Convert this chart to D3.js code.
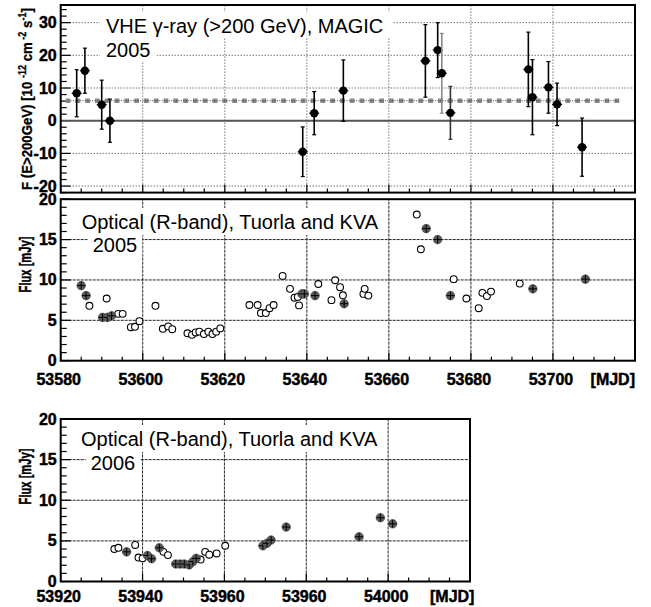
<!DOCTYPE html>
<html><head><meta charset="utf-8">
<script src="https://cdn.jsdelivr.net/npm/d3@7"></script>
<style>
html,body{margin:0;padding:0;background:#fff;}
svg{display:block;font-family:"Liberation Sans",Arial,Helvetica,sans-serif;}
</style></head>
<body>
<svg id="chart" width="651" height="607"></svg>
<script>
// ---------- DATA ----------
// VHE gamma-ray (MAGIC) 2005, flux in 1e-12 cm^-2 s^-1
const vheMJD  = [53583.9, 53585.9, 53590.0, 53592.0, 53639.0, 53641.8, 53648.9, 53668.9, 53671.9, 53672.9, 53675.0, 53694.0, 53695.0, 53698.9, 53701.0, 53707.1];
const vheFlux = [8.4, 15.3, 4.9, 0.0, -9.5, 2.3, 9.2, 18.3, 21.6, 14.5, 2.4, 15.7, 7.2, 10.2, 5.0, -8.1];
const vheErr  = [7.2, 6.9, 7.5, 6.6, 7.6, 6.6, 9.4, 11.1, 8.4, 12.2, 8.1, 11.4, 11.5, 7.9, 6.5, 8.9];
const vheFitLevel = [6.1];
const vheFitRange = [53581.8, 53716.4];

// Optical 2005 - Tuorla (open) and KVA (filled), flux in mJy
const opt2005OpenMJD  = [53587.0, 53591.2, 53594.0, 53595.1, 53597.1, 53598.1, 53599.2, 53603.1, 53604.9, 53606.2, 53607.2, 53610.9, 53612.0, 53612.9, 53613.8, 53614.9, 53616.0, 53617.0, 53617.9, 53618.9, 53626.0, 53628.0, 53628.8, 53630.0, 53630.9, 53631.9, 53634.1, 53635.9, 53637.0, 53637.8, 53638.1, 53642.8, 53646.0, 53646.9, 53648.1, 53648.8, 53653.8, 53654.1, 53655.0, 53666.8, 53667.8, 53675.8, 53678.9, 53681.9, 53682.8, 53683.9, 53684.9, 53691.9];
const opt2005OpenFlux = [6.8, 7.7, 5.8, 5.8, 4.15, 4.2, 4.9, 6.8, 3.95, 4.25, 3.9, 3.4, 3.2, 3.5, 3.6, 3.3, 3.6, 3.3, 3.6, 4.0, 6.9, 6.9, 5.9, 5.9, 6.5, 6.9, 10.5, 8.9, 7.8, 7.9, 6.85, 9.5, 7.5, 9.96, 9.1, 8.1, 8.27, 8.9, 8.06, 18.1, 13.8, 10.1, 7.7, 6.5, 8.4, 8.0, 8.56, 9.55];
const opt2005FillMJD  = [53585.0, 53586.2, 53590.2, 53591.4, 53592.4, 53638.8, 53639.4, 53642.0, 53649.1, 53669.1, 53671.9, 53675.0, 53695.1, 53707.9];
const opt2005FillFlux = [9.3, 8.06, 5.36, 5.36, 5.56, 8.27, 8.27, 8.06, 7.06, 16.36, 15.0, 8.06, 8.9, 10.1];

// Optical 2006
const opt2006OpenMJD  = [53933.1, 53934.1, 53938.2, 53939.0, 53940.0, 53945.1, 53946.2, 53954.2, 53955.3, 53956.3, 53958.1, 53960.2];
const opt2006OpenFlux = [4.0, 4.15, 4.5, 2.95, 2.85, 3.65, 3.25, 2.7, 3.65, 3.3, 3.45, 4.4];
const opt2006FillMJD  = [53936.1, 53941.2, 53942.2, 53944.1, 53948.1, 53949.2, 53950.2, 53951.4, 53952.3, 53953.1, 53969.4, 53970.4, 53971.4, 53975.1, 53992.9, 53998.1, 54001.1];
const opt2006FillFlux = [3.65, 3.2, 2.8, 4.15, 2.15, 2.15, 2.15, 2.05, 2.45, 2.85, 4.4, 4.7, 5.1, 6.7, 5.5, 7.85, 7.1];

// Tick labels
const vheYTicks = [-20, -10, 0, 10, 20, 30];
const optYTicks = [0, 5, 10, 15, 20];
const x2005Ticks = [53580, 53600, 53620, 53640, 53660, 53680, 53700];
const x2005TickLabels = ["53580", "53600", "53620", "53640", "53660", "53680", "53700"];
const x2006Ticks = [53920, 53940, 53960, 53980, 54000];
const x2006TickLabels = ["53920", "53940", "53960", "53960", "54000"];

// ---------- DRAW ----------
const svg = d3.select("#chart");
const heavy = sel => sel.attr("font-weight", "bold").attr("stroke", "#000").attr("stroke-width", 0.45);

function panel(cfg) {
  const g = svg.append("g");
  const x = d3.scaleLinear().domain(cfg.xDomain).range(cfg.xRange);
  const y = d3.scaleLinear().domain(cfg.yDomain).range(cfg.yRange);
  const [x0, x1] = cfg.xRange, [yb, yt] = cfg.yRange;

  g.selectAll(null).data(cfg.xGrid).enter().append("line")
    .attr("x1", d => x(d)).attr("x2", d => x(d)).attr("y1", yb).attr("y2", yt)
    .attr("stroke", cfg.gridColor).attr("stroke-width", 1).attr("stroke-dasharray", cfg.gridDash);
  g.selectAll(null).data(cfg.yGrid).enter().append("line")
    .attr("y1", d => y(d)).attr("y2", d => y(d)).attr("x1", x0).attr("x2", x1)
    .attr("stroke", cfg.gridColor).attr("stroke-width", 1).attr("stroke-dasharray", cfg.gridDash);

  const xt = d3.range(cfg.xDomain[0], cfg.xDomain[1] + 0.01, cfg.xMinor);
  g.selectAll(null).data(xt).enter().append("line")
    .attr("x1", d => x(d)).attr("x2", d => x(d)).attr("y1", yb)
    .attr("y2", d => yb - (((d - cfg.xDomain[0]) % cfg.xMajor) === 0 ? 8 : 4))
    .attr("stroke", "#000").attr("stroke-width", 1.2);
  const ytStart = Math.ceil(cfg.yDomain[0] / cfg.yMinor) * cfg.yMinor;
  const yt2 = d3.range(ytStart, cfg.yDomain[1] + 0.001, cfg.yMinor);
  g.selectAll(null).data(yt2).enter().append("line")
    .attr("y1", d => y(d)).attr("y2", d => y(d)).attr("x1", x0)
    .attr("x2", d => x0 + ((Math.abs(d % cfg.yMajor) < 1e-6) ? 10 : 6))
    .attr("stroke", "#000").attr("stroke-width", 1.2);

  g.selectAll(null).data(cfg.yTicks).enter().append("text")
    .attr("x", x0 - 4).attr("y", d => y(d) + 5.5)
    .attr("text-anchor", "end").attr("font-size", 16).call(heavy)
    .text(d => d);

  if (cfg.xTicks) {
    g.selectAll(null).data(cfg.xTicks).enter().append("text")
      .attr("x", d => x(d) - 2).attr("y", cfg.xLabelY)
      .attr("text-anchor", "middle").attr("font-size", 16).call(heavy)
      .text((d, i) => cfg.xTickLabels[i]);
  }
  return {g, x, y};
}

function textBox(g, tx, ty, str, padL, padR, boxTop, boxBot) {
  const t = g.append("text").attr("x", tx).attr("y", ty).attr("font-size", 20).text(str);
  const bb = t.node().getBBox();
  g.insert("rect", function(){ return t.node(); })
    .attr("x", bb.x - padL).attr("y", boxTop).attr("width", bb.width + padL + padR).attr("height", boxBot - boxTop)
    .attr("fill", "#fff");
}

function frame(g, cfg) {
  const [x0, x1] = cfg.xRange, [yb, yt] = cfg.yRange;
  g.append("rect").attr("x", x0).attr("y", yt).attr("width", x1 - x0).attr("height", yb - yt)
    .attr("fill", "none").attr("stroke", "#000").attr("stroke-width", 2);
}

// rotated title squeezed along its length to a target length
function vTitle(cx, cy, size, targetLen, build) {
  const outer = svg.append("g").attr("transform", `translate(${cx},${cy}) rotate(-90)`);
  const inner = outer.append("g");
  const t = inner.append("text").attr("text-anchor", "middle").attr("font-size", size).call(heavy);
  build(t);
  const len = t.node().getComputedTextLength();
  inner.attr("transform", `scale(${targetLen / len},1)`);
}

function openPts(P, xs, ys) {
  P.g.selectAll(null).data(xs).enter().append("circle")
    .attr("cx", d => P.x(d)).attr("cy", (d, i) => P.y(ys[i])).attr("r", 3.4)
    .attr("fill", "#fff").attr("stroke", "#000").attr("stroke-width", 1.1);
}
function fillPts(P, xs, ys) {
  const gg = P.g.append("g");
  xs.forEach((d, i) => {
    const cx = P.x(d), cy = P.y(ys[i]);
    gg.append("circle").attr("cx", cx).attr("cy", cy).attr("r", 4.3).attr("fill", "#5a5a5a").attr("stroke", "#444").attr("stroke-width", 0.6);
    gg.append("line").attr("x1", cx - 4).attr("x2", cx + 4).attr("y1", cy).attr("y2", cy).attr("stroke", "#000").attr("stroke-width", 1);
    gg.append("line").attr("x1", cx).attr("x2", cx).attr("y1", cy - 4).attr("y2", cy + 4).attr("stroke", "#000").attr("stroke-width", 1);
  });
}

// ---- Top panel: VHE ----
const topCfg = {
  xDomain: [53580, 53720], xRange: [60.7, 635],
  yDomain: [-22, 35.4], yRange: [192.6, 5],
  xGrid: [53600, 53620, 53640, 53660, 53680, 53700],
  yGrid: [-20, -10, 10, 20, 30],
  gridDash: "1,2", gridColor: "#333",
  xMinor: 5, xMajor: 20, yMinor: 2, yMajor: 10,
  yTicks: vheYTicks
};
const T = panel(topCfg);
textBox(T.g, 106, 32.7, "VHE γ-ray (>200 GeV), MAGIC", 6, 9, 12, 38);
textBox(T.g, 106, 57.3, "2005", 6, 6, 38, 61);
T.g.append("line").attr("x1", topCfg.xRange[0]).attr("x2", topCfg.xRange[1])
  .attr("y1", T.y(0)).attr("y2", T.y(0)).attr("stroke", "#555").attr("stroke-width", 2);
T.g.append("line").attr("x1", T.x(vheFitRange[0]) - 2.5).attr("x2", T.x(vheFitRange[1]) + 2.5)
  .attr("y1", T.y(vheFitLevel[0])).attr("y2", T.y(vheFitLevel[0]))
  .attr("stroke", "#8a8a8a").attr("stroke-width", 4.5).attr("stroke-dasharray", "4.8,5");
T.g.append("line").attr("x1", T.x(vheFitRange[0])).attr("x2", T.x(vheFitRange[1]))
  .attr("y1", T.y(vheFitLevel[0])).attr("y2", T.y(vheFitLevel[0]))
  .attr("stroke", "#444").attr("stroke-width", 1).attr("stroke-dasharray", "1,1.4");
vheMJD.forEach((d, i) => {
  const cx = T.x(d), cy = T.y(vheFlux[i]);
  const top = T.y(vheFlux[i] + vheErr[i]), bot = T.y(vheFlux[i] - vheErr[i]);
  const col = i === 9 ? "#888" : (i === 10 ? "#333" : "#000");
  T.g.append("line").attr("x1", cx).attr("x2", cx).attr("y1", top).attr("y2", bot).attr("stroke", col).attr("stroke-width", 1.6);
  T.g.append("line").attr("x1", cx - 2).attr("x2", cx + 2).attr("y1", top).attr("y2", top).attr("stroke", col).attr("stroke-width", 1.2);
  T.g.append("line").attr("x1", cx - 2).attr("x2", cx + 2).attr("y1", bot).attr("y2", bot).attr("stroke", col).attr("stroke-width", 1.2);
  T.g.append("line").attr("x1", cx - 5).attr("x2", cx + 5).attr("y1", cy).attr("y2", cy).attr("stroke", "#000").attr("stroke-width", 1.2);
  T.g.append("circle").attr("cx", cx).attr("cy", cy).attr("r", 4.2).attr("fill", "#000");
});
frame(T.g, topCfg);
vTitle(32, 99, 14.5, 182, t => {
  t.attr("stroke-width", 0.3);
  t.append("tspan").text("F (E>200GeV) [10 ");
  t.append("tspan").attr("dy", -6.5).attr("font-size", 10).text(" -12");
  t.append("tspan").attr("dy", 6.5).text(" cm");
  t.append("tspan").attr("dy", -6.5).attr("font-size", 10).text(" -2");
  t.append("tspan").attr("dy", 6.5).text(" s");
  t.append("tspan").attr("dy", -6.5).attr("font-size", 10).text("-1");
  t.append("tspan").attr("dy", 6.5).text("]");
});

// ---- Middle panel: optical 2005 ----
const midCfg = {
  xDomain: [53580, 53720], xRange: [60.7, 635],
  yDomain: [0, 20], yRange: [360.7, 199.2],
  xGrid: [53600, 53620, 53640, 53660, 53680, 53700],
  yGrid: [5, 10, 15],
  gridDash: "3,1", gridColor: "#222",
  xMinor: 5, xMajor: 20, yMinor: 1, yMajor: 5,
  yTicks: optYTicks,
  xTicks: x2005Ticks, xTickLabels: x2005TickLabels, xLabelY: 384.5
};
const M = panel(midCfg);
textBox(M.g, 81.7, 229.4, "Optical (R-band), Tuorla and KVA", 5, 6, 208, 235);
textBox(M.g, 92.7, 251.7, "2005", 5, 5, 235, 257);
openPts(M, opt2005OpenMJD, opt2005OpenFlux);
fillPts(M, opt2005FillMJD, opt2005FillFlux);
frame(M.g, midCfg);
svg.append("text").attr("x", 635).attr("y", 384.5).attr("text-anchor", "end")
  .attr("font-size", 16).call(heavy).text("[MJD]");
vTitle(31, 264.5, 17, 56, t => t.text("Flux [mJy]"));

// ---- Bottom panel: optical 2006 ----
const botCfg = {
  xDomain: [53920, 54020], xRange: [60.7, 470],
  yDomain: [0, 20], yRange: [581.5, 419],
  xGrid: [53940, 53960, 53980, 54000],
  yGrid: [5, 10, 15],
  gridDash: "3,1", gridColor: "#222",
  xMinor: 5, xMajor: 20, yMinor: 1, yMajor: 5,
  yTicks: optYTicks,
  xTicks: x2006Ticks, xTickLabels: x2006TickLabels, xLabelY: 601.5
};
const B = panel(botCfg);
textBox(B.g, 81, 445.5, "Optical (R-band), Tuorla and KVA", 5, 6, 425, 452);
textBox(B.g, 90.7, 470, "2006", 5, 5, 452, 475);
openPts(B, opt2006OpenMJD, opt2006OpenFlux);
fillPts(B, opt2006FillMJD, opt2006FillFlux);
frame(B.g, botCfg);
svg.append("text").attr("x", 430).attr("y", 601.5).attr("text-anchor", "start")
  .attr("font-size", 16).call(heavy).text("[MJD]");
vTitle(31, 476.5, 17, 56, t => t.text("Flux [mJy]"));
</script>
</body></html>
